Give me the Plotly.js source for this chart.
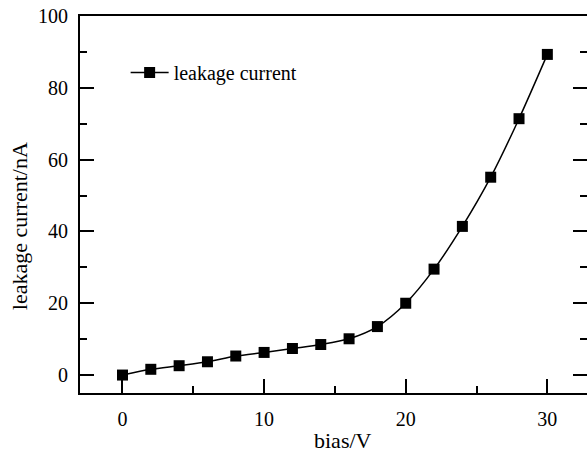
<!DOCTYPE html>
<html>
<head>
<meta charset="utf-8">
<script src="https://cdn.plot.ly/plotly-3.0.1.min.js"></script>
<style>html,body{margin:0;padding:0;background:#fff;}#chart{width:587px;height:456px;}</style>
</head>
<body>
<div id="chart"></div>
<script>
var biasV = [0, 2, 4, 6, 8, 10, 12, 14, 16, 18, 20, 22, 24, 26, 28, 30];
var leakageNA = [0, 1.6, 2.6, 3.7, 5.3, 6.3, 7.4, 8.5, 10.1, 13.5, 20.0, 29.5, 41.4, 55.1, 71.4, 89.3];
var seriesName = 'leakage current';
var xTitle = 'bias/V';
var yTitle = 'leakage current/nA';

var FONT = 'Liberation Serif';

var trace = {
  x: biasV, y: leakageNA, name: seriesName,
  type: 'scatter', mode: 'lines+markers',
  line: {color: '#000', width: 1.5, shape: 'spline', smoothing: 0.8},
  marker: {symbol: 'square', size: 11, color: '#000', line: {width: 0}}
};

var axisCommon = {
  showline: true, linecolor: '#000', linewidth: 2,
  ticks: 'inside', ticklen: 14, tickwidth: 2, tickcolor: '#000',
  showgrid: false, zeroline: false,
  tickfont: {family: FONT, size: 20, color: '#000'}
};

var layout = {
  width: 587, height: 456,
  margin: {l: 80, r: 0, t: 16, b: 63},
  paper_bgcolor: '#fff', plot_bgcolor: '#fff',
  font: {family: FONT, size: 20, color: '#000'},
  showlegend: true,
  legend: {x: 0.09, y: 0.85, xanchor: 'left', yanchor: 'middle', bgcolor: 'rgba(0,0,0,0)',
           font: {family: FONT, size: 20, color: '#000'}, itemwidth: 38},
  xaxis: Object.assign({}, axisCommon, {
    range: [-3, 32.8], dtick: 10, tick0: 0, mirror: true,
    ticklabelstandoff: 7,
    minor: {dtick: 5, tick0: 0, ticks: 'inside', ticklen: 7, tickwidth: 2, tickcolor: '#000', showgrid: false}
  }),
  yaxis: Object.assign({}, axisCommon, {
    range: [-5, 100], dtick: 20, tick0: 0, mirror: 'ticks',
    ticklabelstandoff: 6,
    minor: {dtick: 10, tick0: 0, ticks: 'inside', ticklen: 7, tickwidth: 2, tickcolor: '#000', showgrid: false}
  }),
  annotations: [
    {text: xTitle, xref: 'paper', yref: 'paper', x: 0.519, y: -0.125, xanchor: 'center', yanchor: 'middle',
     showarrow: false, font: {family: FONT, size: 22, color: '#000'}},
    {text: yTitle, xref: 'paper', yref: 'paper', x: -0.118, y: 0.443, xanchor: 'center', yanchor: 'middle',
     textangle: -90, showarrow: false, font: {family: FONT, size: 22, color: '#000'}}
  ]
};

Plotly.newPlot('chart', [trace], layout, {staticPlot: true, displayModeBar: false});
</script>
</body>
</html>
